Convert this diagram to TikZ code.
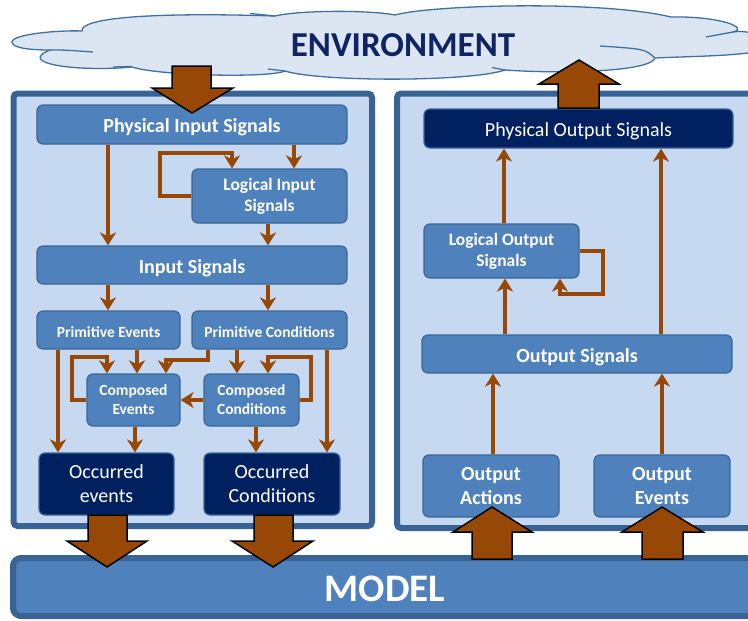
\documentclass[tikz,border=0pt]{standalone}
\usepackage{fontspec}
\setmainfont{Carlito}
\usetikzlibrary{arrows.meta,calc}
\definecolor{brownarr}{HTML}{974806}
\definecolor{nodefill}{HTML}{4F81BD}
\definecolor{nodeline}{HTML}{3B6696}
\definecolor{panelfill}{HTML}{C6D9F1}
\definecolor{panelline}{HTML}{3A6395}
\definecolor{navy}{HTML}{002060}
\definecolor{cloudfill}{HTML}{DCE6F2}
\definecolor{cloudline}{HTML}{41719C}
\definecolor{envtext}{HTML}{0F2461}
\tikzset{
  box/.style={draw=nodeline, line width=1.2pt, fill=nodefill, rounded corners=6pt,
    inner sep=0pt, align=center, text=white,
    execute at begin node={\rule{0pt}{1.0em}}},
  darkbox/.style={box, fill=navy},
  bigtxt/.style={font=\bfseries\fontsize{20pt}{24pt}\selectfont},
  midtxt/.style={font=\bfseries\fontsize{17.5pt}{21pt}\selectfont},
  smalltxt/.style={font=\bfseries\fontsize{15.5pt}{19pt}\selectfont},
  regtxt/.style={font=\fontsize{20pt}{24pt}\selectfont},
  arr/.style={draw=brownarr, line width=3.5pt, line join=miter,
    -{Stealth[length=13pt,width=16pt,inset=4pt]}},
  bigarr/.style={fill=brownarr, draw=black, line width=1.5pt, line join=miter},
  panel/.style={draw=panelline, fill=panelfill, line width=6pt, rounded corners=4pt},
  cloudln/.style={draw=cloudline, line width=1.3pt},
}
\begin{document}
\begin{tikzpicture}[x=1pt,y=-1pt]
\useasboundingbox (0,0) rectangle (748,621);
% cloud
\draw[cloudln, fill=cloudfill]
  (12,42) .. controls (12,34) and (60,30) .. (82,31)
  .. controls (80,18) and (150,12) .. (275,16)
  .. controls (300,10) and (370,10) .. (395,15)
  .. controls (430,5) and (600,0) .. (671,17)
  .. controls (720,16) and (750,28) .. (733,32)
  .. controls (745,30) and (760,34) .. (765,40)
  -- (765,50)
  .. controls (740,56) and (700,56) .. (655,58)
  .. controls (650,72) and (560,74) .. (505,70)
  .. controls (470,82) and (320,82) .. (285,71)
  .. controls (270,78) and (160,76) .. (132,67)
  .. controls (80,72) and (15,64) .. (50,50)
  .. controls (25,50) and (12,47) .. cycle;
\draw[cloudln] (50,50) .. controls (65,50) .. (93,52);
\draw[cloudln] (113,67) -- (132,66.5);
\draw[cloudln] (250,13.5) .. controls (262,14) .. (275,16);
\draw[cloudln] (600,46) .. controls (645,49) .. (655,58);
\draw[cloudln] (706,37) -- (733,32);
\draw[cloudln] (268,69) -- (285,71);
\draw[cloudln] (492,67.5) -- (505,70);
\node[text=envtext, font=\bfseries\fontsize{35pt}{40pt}\selectfont] (env) at (403,45) {ENVIRONMENT};
% panels
\draw[panel] (13.5,93.5) rectangle (372,526);
\draw[panel] (397,93.5) rectangle (770,528);
% model bar
\draw[draw=panelline, fill=nodefill, line width=6pt, rounded corners=8pt] (13,558) rectangle (770,616);
\node[text=white, font=\bfseries\fontsize{39pt}{44pt}\selectfont] (model) at (385,589) {MODEL};
% left nodes
\node[box, bigtxt, minimum width=310pt, minimum height=39pt] (pis) at (192,124.5) {Physical Input Signals};
\node[box, midtxt, minimum width=155pt, minimum height=54pt] (lis) at (269.5,196) {Logical Input\\Signals};
\node[box, bigtxt, minimum width=310pt, minimum height=38pt] (is) at (192,265) {Input Signals};
\node[box, smalltxt, minimum width=143pt, minimum height=38pt] (pe) at (108.5,330) {Primitive Events};
\node[box, smalltxt, minimum width=155pt, minimum height=38pt] (pc) at (269.5,330) {Primitive Conditions};
\node[box, smalltxt, minimum width=93pt, minimum height=52pt] (ce) at (133.5,400) {Composed\\Events};
\node[box, smalltxt, minimum width=95pt, minimum height=52pt] (cc) at (251.5,400) {Composed\\Conditions};
\node[darkbox, regtxt, minimum width=135pt, minimum height=62pt] (oe) at (106.5,484) {Occurred\\events};
\node[darkbox, regtxt, minimum width=136pt, minimum height=62pt] (oc) at (272,484) {Occurred\\Conditions};
% right nodes
\node[darkbox, regtxt, minimum width=309pt, minimum height=39pt] (pos) at (578.5,128.5) {Physical Output Signals};
\node[box, midtxt, minimum width=155pt, minimum height=54pt] (los) at (501.5,251) {Logical Output\\Signals};
\node[box, bigtxt, minimum width=310pt, minimum height=38pt] (os) at (577,354) {Output Signals};
\node[box, bigtxt, minimum width=136pt, minimum height=62pt] (oa) at (491,486) {Output\\Actions};
\node[box, bigtxt, minimum width=136pt, minimum height=62pt] (oev) at (662,486) {Output\\Events};
% left connectors
\draw[arr] (108,0 |- pis.south) -- (108,0 |- is.north);
\draw[arr] (294,0 |- pis.south) -- (294,0 |- lis.north);
\draw[arr] (lis.west) -- (160,0 |- lis.west) -- (160,153) -- (232,153) -- (232,0 |- lis.north);
\draw[arr] (268,0 |- lis.south) -- (268,0 |- is.north);
\draw[arr] (108,0 |- is.south) -- (108,0 |- pe.north);
\draw[arr] (268,0 |- is.south) -- (268,0 |- pc.north);
\draw[arr] (58,0 |- pe.south) -- (58,0 |- oe.north);
\draw[arr] (137,0 |- pe.south) -- (137,0 |- ce.north);
\draw[arr] (ce.west) -- (72,0 |- ce.west) -- (72,357) -- (107,357) -- (107,0 |- ce.north);
\draw[arr] (208,0 |- pc.south) -- (208,360) -- (166,360) -- (166,0 |- ce.north);
\draw[arr] (237,0 |- pc.south) -- (237,0 |- cc.north);
\draw[arr] (cc.east) -- (311,0 |- cc.east) -- (311,357) -- (268,357) -- (268,0 |- cc.north);
\draw[arr] (cc.west) -- (ce.east);
\draw[arr] (327,0 |- pc.south) -- (327,0 |- oc.north);
\draw[arr] (135,0 |- ce.south) -- (135,0 |- oe.north);
\draw[arr] (256,0 |- cc.south) -- (256,0 |- oc.north);
% right connectors
\draw[arr] (504,0 |- los.north) -- (504,0 |- pos.south);
\draw[arr] (661,0 |- os.north) -- (661,0 |- pos.south);
\draw[arr] (505,0 |- os.north) -- (505,0 |- los.south);
\draw[arr] (los.east) -- (603,0 |- los.east) -- (603,294) -- (560,294) -- (560,0 |- los.south);
\draw[arr] (493,0 |- oa.north) -- (493,0 |- os.south);
\draw[arr] (662,0 |- oev.north) -- (662,0 |- os.south);
% block arrows
\draw[bigarr] (172,66) -- (211,66) -- (211,88) -- (233,88) -- (192,113) -- (152,88) -- (172,88) -- cycle;
\draw[bigarr] (558,108) -- (599,108) -- (599,84) -- (619,84) -- (579,60) -- (539,84) -- (558,84) -- cycle;
\draw[bigarr] (88,515) -- (127,515) -- (127,541) -- (147,541) -- (107,567) -- (67,541) -- (88,541) -- cycle;
\draw[bigarr] (254,515) -- (293,515) -- (293,541) -- (313,541) -- (273,567) -- (232,541) -- (254,541) -- cycle;
\draw[bigarr] (472,559) -- (512,559) -- (512,532) -- (532,532) -- (492,507) -- (453,532) -- (472,532) -- cycle;
\draw[bigarr] (642,559) -- (683,559) -- (683,532) -- (703,532) -- (662,507) -- (622,532) -- (642,532) -- cycle;
\end{tikzpicture}
\end{document}
